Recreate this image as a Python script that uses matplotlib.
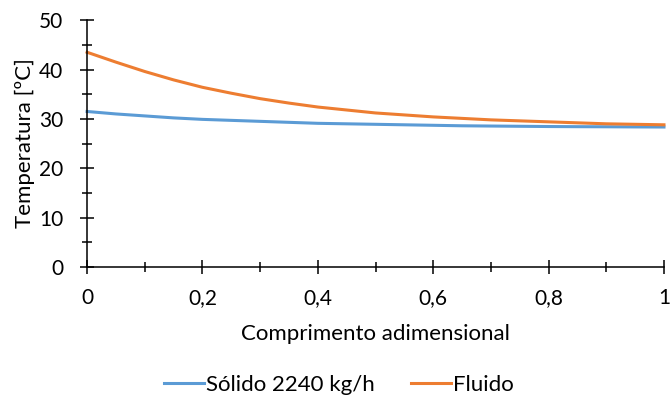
import matplotlib
matplotlib.use("Agg")
import matplotlib.pyplot as plt
from matplotlib.ticker import MultipleLocator, FuncFormatter

# dimensionless length positions
comprimento = [0.0, 0.05, 0.1, 0.15, 0.2, 0.25, 0.3, 0.35, 0.4, 0.45, 0.5,
               0.55, 0.6, 0.65, 0.7, 0.75, 0.8, 0.85, 0.9, 0.95, 1.0]
# temperatures [ºC]
solido = [31.5, 31.0, 30.6, 30.2, 29.9, 29.7, 29.5, 29.3, 29.1, 29.0, 28.9,
          28.8, 28.7, 28.6, 28.55, 28.5, 28.45, 28.42, 28.4, 28.37, 28.35]
fluido = [43.5, 41.5, 39.6, 37.9, 36.4, 35.2, 34.1, 33.2, 32.4, 31.8, 31.2,
          30.8, 30.4, 30.1, 29.8, 29.6, 29.4, 29.2, 29.0, 28.9, 28.8]

plt.rcParams['font.family'] = ['Lato', 'DejaVu Sans']

fig = plt.figure(figsize=(6.7, 3.96), dpi=100)
ax = fig.add_axes([0.13, 0.326, 0.861, 0.623])

ax.plot(comprimento, solido, color='#5B9BD5', lw=2.2, label='Sólido 2240 kg/h', clip_on=False)
ax.plot(comprimento, fluido, color='#ED7D31', lw=2.2, label='Fluido', clip_on=False)

ax.set_xlim(0, 1)
ax.set_ylim(0, 50)
ax.xaxis.set_major_locator(MultipleLocator(0.2))
ax.xaxis.set_minor_locator(MultipleLocator(0.1))
ax.yaxis.set_major_locator(MultipleLocator(10))
ax.yaxis.set_minor_locator(MultipleLocator(5))
ax.xaxis.set_major_formatter(FuncFormatter(lambda v, p: f"{v:g}".replace('.', ',')))

for s in ['top', 'right']:
    ax.spines[s].set_visible(False)
for s in ['left', 'bottom']:
    ax.spines[s].set_linewidth(1.1)
    ax.spines[s].set_color('black')
ax.tick_params(which='major', direction='inout', length=10, width=1.1, colors='black', labelsize=15)
ax.tick_params(which='minor', direction='inout', length=7, width=1.1, colors='black')
ax.tick_params(axis='x', pad=10)
ax.tick_params(axis='y', pad=12)

ax.set_xlabel('Comprimento adimensional', fontsize=16, labelpad=12)
ax.set_ylabel('Temperatura [ºC]', fontsize=16, labelpad=3)

fig.legend(loc='center', ncol=2, frameon=False, fontsize=16,
           bbox_to_anchor=(0.506, 0.028), handlelength=1.8, handletextpad=0.12,
           columnspacing=1.6)

fig.savefig('out.png', dpi=100)
